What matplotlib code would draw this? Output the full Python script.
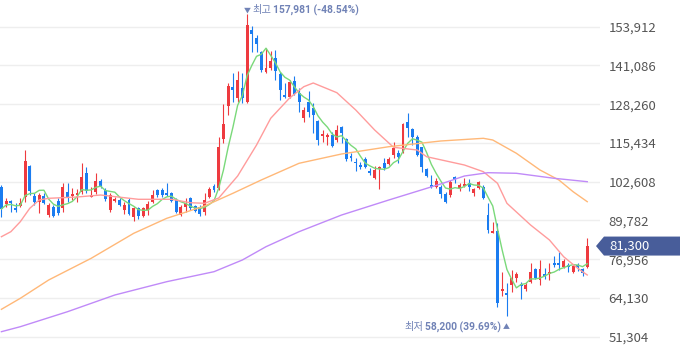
import numpy as np
import pandas as pd
import matplotlib
matplotlib.use("Agg")
import matplotlib.pyplot as plt
import matplotlib.transforms as mtransforms
from matplotlib.patches import Polygon
from matplotlib.offsetbox import TextArea, HPacker, AnnotationBbox

plt.rcParams['font.family'] = ['Noto Sans CJK KR', 'DejaVu Sans']

# daily candles, oldest first
opens = [100950, 95230, 96120, 94000, 94560, 97440, 107800, 97870, 95990, 97870,
         91590, 94330, 96220, 93800, 99300, 97870, 98210, 99300, 105390, 97640,
         99100, 102940, 99860, 93240, 96220, 96550, 93240, 96550, 90820, 93800,
         91250, 93240, 95790, 99860, 99860, 98970, 98970, 96550, 91590, 94330,
         97110, 94560, 94070, 92680, 97440, 101180, 100420, 116740, 127760, 134050,
         130210, 133520, 128890, 152820, 150270, 145640, 138820, 140340, 143450, 138160,
         131310, 130740, 135940, 131870, 123690, 129090, 126900, 122800, 117730, 117300,
         118070, 116410, 120810, 116640, 111110, 109230, 108140, 110020, 106250, 103730,
         106710, 108700, 108470, 111450, 112210, 112540, 122270, 119950, 117500, 113990,
         106710, 101520, 100950, 100750, 98540, 98210, 104260, 100420, 101180, 102080,
         98970, 100420, 100950, 91590, 85730, 86290, 66530, 65670, 68420, 70630,
         68650, 66990, 69510, 73610, 70070, 72060, 72060, 75800, 75800, 74470,
         75040, 72820, 75040, 73610, 74470]
highs = [101500, 97210, 96550, 95460, 97110, 113100, 108140, 98770, 98970, 98770,
         95460, 94900, 97110, 102080, 102280, 100420, 100090, 108900, 107570, 100950,
         105590, 103400, 100420, 98770, 97640, 97110, 95990, 97110, 94330, 94330,
         94330, 96220, 99860, 100100, 100420, 102280, 99300, 97110, 94900, 97110,
         97440, 94900, 94900, 98870, 100950, 101850, 117500, 128230, 135180, 138490,
         139250, 138490, 157981, 154240, 151170, 145870, 146760, 145870, 146200, 139020,
         135180, 136270, 137690, 133520, 127430, 132730, 128560, 123030, 119720, 118630,
         119160, 121380, 121100, 116970, 112210, 110350, 109230, 110680, 107040, 107800,
         107800, 110350, 110880, 115850, 113100, 121940, 125250, 120280, 118070, 114190,
         107040, 104830, 103730, 101520, 99300, 103170, 104490, 102080, 103730, 103400,
         100420, 102840, 101520, 95460, 89370, 88840, 72820, 68980, 73380, 72820,
         69510, 69510, 75600, 73940, 76690, 73940, 75800, 78010, 79440, 76920,
         75600, 75040, 75800, 73940, 83870]
lows = [90800, 94230, 92680, 92480, 94330, 95990, 98210, 94900, 92350, 95230,
        91020, 90820, 91590, 92680, 95990, 96550, 95990, 98540, 98970, 97440,
        98540, 100420, 96320, 92680, 95990, 94660, 91920, 91590, 89600, 90260,
        90820, 91590, 95460, 97640, 97440, 97870, 95990, 92350, 91250, 92680,
        93240, 92680, 91250, 91590, 97110, 99300, 99860, 115320, 124690, 129090,
        129090, 128560, 128560, 145440, 145440, 139020, 138590, 139580, 136270, 129650,
        130210, 130410, 131310, 125780, 122370, 124120, 118630, 114760, 115850, 114760,
        113990, 115850, 115520, 109560, 109560, 106250, 106710, 107040, 104830, 103400,
        100090, 106480, 108140, 110350, 108700, 112210, 117300, 114760, 111110, 105920,
        104260, 100420, 100420, 97110, 95660, 97640, 102080, 99630, 100750, 99630,
        97970, 100090, 96780, 85530, 85530, 61230, 64770, 58200, 66200, 69510,
        63680, 66530, 68980, 70300, 68420, 70300, 70070, 74470, 73380, 73940,
        72820, 72490, 73150, 71390, 73940]
closes = [93570, 96220, 95460, 93240, 95460, 109560, 99630, 95890, 98210, 95660,
          94900, 91250, 92150, 100750, 97640, 98540, 98970, 104060, 99630, 98210,
          102840, 100950, 96780, 98210, 96880, 94900, 94900, 91920, 93800, 91250,
          93800, 95130, 98210, 98210, 98210, 98210, 96320, 92680, 94330, 95460,
          93800, 93010, 91920, 96550, 100090, 99860, 114190, 121710, 134380, 132960,
          136270, 130210, 154480, 151500, 148090, 139580, 140340, 142560, 139250, 132960,
          130740, 135710, 131540, 128890, 126340, 125780, 124690, 116410, 118400, 118070,
          114420, 119720, 118630, 110020, 110350, 108700, 107370, 107370, 105390, 106480,
          107370, 107040, 110020, 113660, 110880, 121710, 120280, 117500, 111450, 107570,
          104490, 100750, 102840, 98540, 95990, 102610, 103170, 101520, 101850, 100950,
          100090, 102610, 97110, 86620, 86390, 62560, 66990, 65110, 70630, 72060,
          68180, 68420, 72820, 70630, 73610, 71390, 72820, 75040, 75040, 76460,
          74470, 74700, 74470, 72290, 81300]

# longer moving averages (they need history before the first candle)
ma20_day = [0, 2, 4, 6, 8, 10, 16, 21, 29, 36, 40, 43, 46, 50, 54, 57, 61, 64, 66,
            71, 75, 79, 83, 88, 90, 98, 102, 105, 107, 112, 116, 119, 122, 124]
ma20_val = [84400, 86060, 89370, 93800, 96550, 97110, 97540, 98200, 96780, 96780,
            95650, 95460, 97210, 104490, 114750, 123590, 130310, 134050, 135280,
            132070, 126340, 119720, 113990, 113100, 110880, 108130, 105920, 102080,
            95460, 88280, 83310, 77780, 73940, 71730]
ma60_day = [0, 4, 10, 19, 28, 35, 43, 49, 55, 63, 72, 82, 93, 102, 104, 109, 114, 118, 121, 124]
ma60_val = [60370, 64010, 70070, 77250, 85520, 90490, 94560, 98770, 103170, 108700,
            111780, 114190, 116080, 116970, 116410, 112010, 106480, 103170, 99300, 95990]
ma120_day = [0, 4, 14, 24, 35, 45, 51, 56, 63, 72, 82, 93, 98, 103, 109, 117, 124]
ma120_val = [52960, 54610, 59580, 65100, 69510, 72820, 76690, 81090, 86060, 91580,
             96550, 101850, 104490, 105590, 105390, 103730, 102610]

yticks = [51304, 64130, 76956, 89782, 102608, 115434, 128260, 141086, 153912]

up_color = '#ee3a3f'
down_color = '#1a7cf0'
ann_color = '#7082b6'
tag_color = '#485d9a'

o = np.array(opens)
h = np.array(highs)
l = np.array(lows)
c = np.array(closes)
days = np.arange(len(c))
colors = np.where(c >= o, up_color, down_color)

fig = plt.figure(figsize=(6.8, 3.58), dpi=100)
ax = fig.add_axes([0, 0, 600 / 680, 1])
ax.set_xlim(-0.3, 126.7)
ax.set_ylim(44250, 162750)
for s in ax.spines.values():
    s.set_visible(False)

ax.set_xticks([])
ax.set_yticks(yticks)
ax.set_yticklabels([f'{v:,}' for v in yticks])
ax.yaxis.tick_right()
ax.tick_params(axis='y', length=0, pad=6, labelsize=9.5, labelcolor='#555555')
ax.grid(axis='y', color='#eeeeee', lw=1)
ax.set_axisbelow(True)

# candles
ax.vlines(days, l, h, colors=colors, lw=0.8, zorder=2)
body = np.maximum(np.abs(c - o), 300)
ax.bar(days, body, bottom=np.minimum(o, c), width=0.62, color=colors, zorder=2)

# moving averages
ma5 = pd.Series(c).rolling(5, min_periods=1).mean()
ax.plot(days, ma5, color='#7ad97a', lw=1, zorder=3)
ax.plot(ma20_day, ma20_val, color='#ff9c9c', lw=1, zorder=3)
ax.plot(ma60_day, ma60_val, color='#ffb878', lw=1, zorder=3)
ax.plot(ma120_day, ma120_val, color='#c08af8', lw=1, zorder=3)

# high / low markers
last = closes[-1]
hi_day = int(np.argmax(h))
lo_day = int(np.argmin(l))
hi = highs[hi_day]
lo = lows[lo_day]
hi_pct = (last - hi) / hi * 100
lo_pct = (last - lo) / lo * 100

num_style = dict(color=ann_color, fontsize=7.4, fontweight='bold', family='Roboto')
word_style = dict(color=ann_color, fontsize=7.4)
mark_style = dict(color=ann_color, fontsize=5)
hi_box = HPacker(children=[
    TextArea('▼', textprops=mark_style),
    TextArea('최고', textprops=word_style),
    TextArea(f'{hi:,} ({hi_pct:.2f}%)', textprops=num_style),
], sep=1.2, align='center', pad=0)
ax.add_artist(AnnotationBbox(hi_box, (hi_day, hi), xybox=(-3, 4), xycoords='data',
                             boxcoords='offset pixels', box_alignment=(0, 0.5),
                             frameon=False, pad=0, annotation_clip=False))

lo_box = HPacker(children=[
    TextArea('최저', textprops=word_style),
    TextArea(f'{lo:,} ({lo_pct:.2f}%)', textprops=num_style),
    TextArea('▲', textprops=mark_style),
], sep=1.2, align='center', pad=0)
ax.add_artist(AnnotationBbox(lo_box, (lo_day, lo), xybox=(3, -11), xycoords='data',
                             boxcoords='offset pixels', box_alignment=(1, 0.5),
                             frameon=False, pad=0, annotation_clip=False))

# last price tag on the axis
trans = mtransforms.blended_transform_factory(fig.transFigure, ax.transData)
ppx = (162750 - 44250) / 358
hh = 9.5 * ppx
tag = Polygon([(596 / 680, last), (604 / 680, last + hh), (1, last + hh),
               (1, last - hh), (604 / 680, last - hh)], closed=True,
              transform=trans, facecolor=tag_color, edgecolor='none', zorder=5)
fig.add_artist(tag)
fig.text(609 / 680, last, f'{last:,}', transform=trans, color='white',
         fontsize=9.5, ha='left', va='center', zorder=6)

fig.savefig('out.png', dpi=100)
